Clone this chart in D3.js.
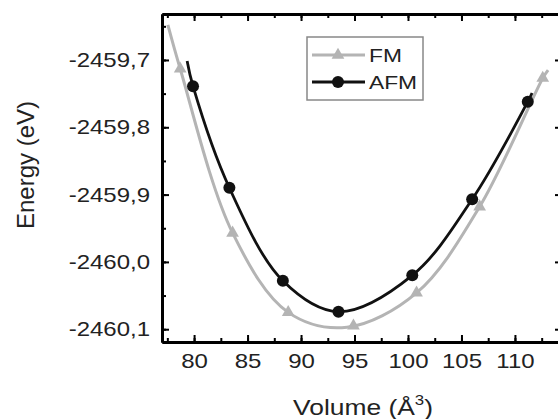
<!DOCTYPE html>
<html>
<head>
<meta charset="utf-8">
<script src="https://cdn.jsdelivr.net/npm/d3@7"></script>
<style>
  html, body { margin: 0; padding: 0; background: #fff; }
  svg { display: block; }
  text { font-family: "Liberation Sans", Arial, sans-serif; fill: #222; }
</style>
</head>
<body>
<svg id="chart" width="558" height="419"></svg>
<script>
// ---- data ----
const seriesNames = ["FM", "AFM"];
const fmVolume = [78.7, 83.6, 88.8, 94.9, 100.8, 106.7, 112.6];
const fmEnergy = [-2459.713, -2459.957, -2460.075, -2460.095, -2460.046, -2459.918, -2459.727];
const afmVolume = [79.9, 83.3, 88.3, 93.5, 100.4, 106.0, 111.2];
const afmEnergy = [-2459.739, -2459.890, -2460.028, -2460.074, -2460.020, -2459.907, -2459.762];
// fitted curves (including their ends beyond the data)
const fmFitVolume = [77.55, 78.7, 83.6, 88.8, 94.3, 100.8, 106.7, 112.6, 113.1];
const fmFitEnergy = [-2459.648, -2459.713, -2459.957, -2460.075, -2460.097, -2460.046, -2459.918, -2459.727, -2459.715];
const afmFitVolume = [79.35, 79.9, 83.3, 88.3, 93.5, 100.4, 106.0, 111.2, 111.6];
const afmFitEnergy = [-2459.7015, -2459.739, -2459.890, -2460.028, -2460.074, -2460.020, -2459.907, -2459.762, -2459.749];
const xTicks = [80, 85, 90, 95, 100, 105, 110];
const yTicks = [-2459.7, -2459.8, -2459.9, -2460.0, -2460.1];
const xLabel = "Volume (Å";
const yLabel = "Energy (eV)";

(function () {
const svg = d3.select("#chart");
const mLeft = 162, mRight = 562, mTop = 14, mBottom = 342;
const x = d3.scaleLinear().domain([77, 114.4]).range([mLeft, mRight]);
const y = d3.scaleLinear().domain([-2460.119, -2459.6317]).range([mBottom, mTop]);

const fmColor = "#b4b4b4", afmColor = "#111";
const fmt = v => d3.format(".1f")(v).replace(".", ",").replace("−", "-");

const xMinor = d3.range(77.5, 114.4, 2.5);
const yMinor = d3.range(-2460.1, -2459.63, 0.05);

// minor ticks
svg.append("g").attr("transform", `translate(0,${mBottom})`)
  .call(d3.axisBottom(x).tickValues(xMinor).tickSizeInner(-4).tickSizeOuter(0).tickFormat(""));
svg.append("g").attr("transform", `translate(0,${mTop})`)
  .call(d3.axisTop(x).tickValues(xMinor).tickSizeInner(-4).tickSizeOuter(0).tickFormat(""));
svg.append("g").attr("transform", `translate(${mLeft},0)`)
  .call(d3.axisLeft(y).tickValues(yMinor).tickSizeInner(-4).tickSizeOuter(0).tickFormat(""));
svg.append("g").attr("transform", `translate(${mRight},0)`)
  .call(d3.axisRight(y).tickValues(yMinor).tickSizeInner(-4).tickSizeOuter(0).tickFormat(""));

// major axes
svg.append("g").attr("transform", `translate(0,${mBottom})`)
  .call(d3.axisBottom(x).tickValues(xTicks).tickSizeInner(-7).tickSizeOuter(0).tickPadding(12).tickFormat(d3.format("d")));
svg.append("g").attr("transform", `translate(0,${mTop})`)
  .call(d3.axisTop(x).tickValues(xTicks).tickSizeInner(-7).tickSizeOuter(0).tickFormat(""));
svg.append("g").attr("transform", `translate(${mLeft},0)`)
  .call(d3.axisLeft(y).tickValues(yTicks).tickSizeInner(-7).tickSizeOuter(0).tickPadding(10).tickFormat(fmt));
svg.append("g").attr("transform", `translate(${mRight},0)`)
  .call(d3.axisRight(y).tickValues(yTicks).tickSizeInner(-7).tickSizeOuter(0).tickFormat(""));

svg.selectAll(".domain").attr("stroke", "#000").attr("stroke-width", 3);
svg.selectAll(".tick line").attr("stroke", "#000").attr("stroke-width", 2);
svg.selectAll(".tick text").attr("font-size", 20).attr("fill", "#222")
  .attr("font-family", "Liberation Sans, Arial, sans-serif")
  .attr("transform", "scale(1.2,1)");

// curves
const line = d3.line().x(d => x(d[0])).y(d => y(d[1])).curve(d3.curveCatmullRom.alpha(0.5));
const plot = svg.append("g");
plot.append("path").datum(d3.zip(fmFitVolume, fmFitEnergy))
  .attr("d", line).attr("fill", "none").attr("stroke", fmColor).attr("stroke-width", 3);
plot.append("path").datum(d3.zip(afmFitVolume, afmFitEnergy))
  .attr("d", line).attr("fill", "none").attr("stroke", afmColor).attr("stroke-width", 2.8);

const tri = d3.symbol().type(d3.symbolTriangle).size(70);
plot.selectAll(".fm").data(d3.zip(fmVolume, fmEnergy)).join("path")
  .attr("class", "fm").attr("d", tri)
  .attr("transform", d => `translate(${x(d[0])},${y(d[1])})`)
  .attr("fill", fmColor);
plot.selectAll(".afm").data(d3.zip(afmVolume, afmEnergy)).join("circle")
  .attr("class", "afm").attr("cx", d => x(d[0])).attr("cy", d => y(d[1])).attr("r", 6)
  .attr("fill", afmColor);

// legend
const lg = svg.append("g");
lg.append("rect").attr("x", 307).attr("y", 37).attr("width", 116).attr("height", 63)
  .attr("fill", "#fff").attr("stroke", "#888").attr("stroke-width", 1.5);
const legendRows = [
  { name: seriesNames[0], color: fmColor, sym: "tri", yy: 55, w: 3 },
  { name: seriesNames[1], color: afmColor, sym: "circle", yy: 82, w: 2.8 }
];
legendRows.forEach(r => {
  lg.append("line").attr("x1", 312).attr("x2", 365).attr("y1", r.yy).attr("y2", r.yy)
    .attr("stroke", r.color).attr("stroke-width", r.w);
  if (r.sym === "tri") {
    lg.append("path").attr("d", tri).attr("transform", `translate(338,${r.yy})`).attr("fill", r.color);
  } else {
    lg.append("circle").attr("cx", 338).attr("cy", r.yy).attr("r", 6).attr("fill", r.color);
  }
  lg.append("g").attr("transform", `translate(369,${r.yy + 7})`)
    .append("text").attr("font-size", 19).attr("transform", "scale(1.2,1)").text(r.name);
});

// axis titles
const xt = svg.append("g").attr("transform", "translate(363,415)")
  .append("text").attr("text-anchor", "middle").attr("font-size", 22).attr("transform", "scale(1.2,1)");
xt.append("tspan").text(xLabel);
xt.append("tspan").attr("font-size", 14).attr("dy", -10).text("3");
xt.append("tspan").attr("dy", 10).text(")");

svg.append("text").attr("transform", "translate(34,165) rotate(-90)")
  .attr("text-anchor", "middle").attr("font-size", 24).text(yLabel);
})();
</script>
</body>
</html>
